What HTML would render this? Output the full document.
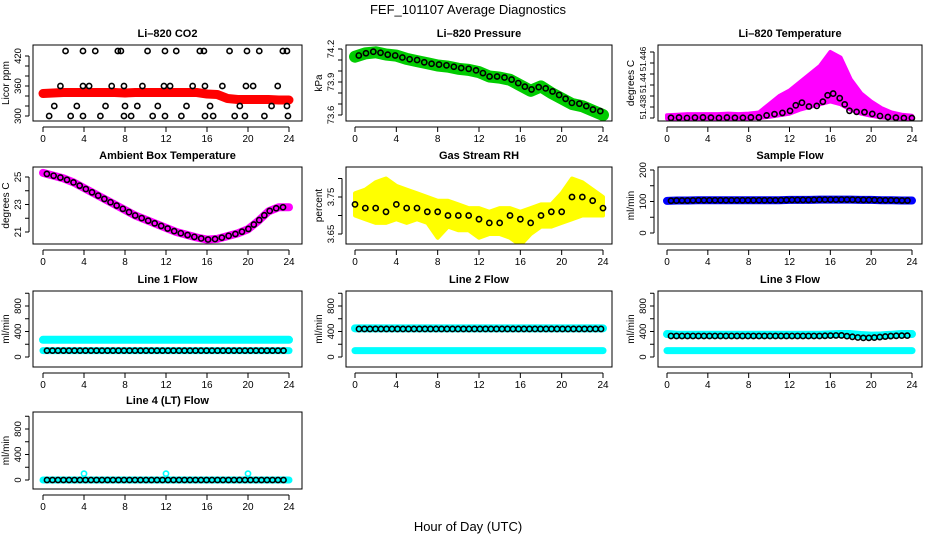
<!DOCTYPE html>
<html><head><meta charset="utf-8"><style>
html,body{margin:0;padding:0;background:#fff;}
svg{display:block;font-family:"Liberation Sans",Arial,sans-serif;}
</style></head><body>
<svg id="chart" width="936" height="540" viewBox="0 0 936 540" xmlns="http://www.w3.org/2000/svg">
<text x="468" y="14" text-anchor="middle" font-size="13">FEF_101107  Average Diagnostics</text>
<text x="468" y="531" text-anchor="middle" font-size="13">Hour of Day (UTC)</text>
</svg>
<script>
const hours = [0,1,2,3,4,5,6,7,8,9,10,11,12,13,14,15,16,17,18,19,20,21,22,23,24];
const xTicks = [0,4,8,12,16,20,24];
const co2Band = [345,346,347,347,347,347,347,347,346,347,347,347,347,347,347,347,344,343,335,333,333,333,333,332,332];
const co2PtX = [0.6,1.1,1.7,2.2,2.7,3.3,3.9,3.9,3.9,4.5,5.1,5.6,6.1,6.7,7.3,7.6,7.9,7.9,8.0,8.6,9.2,9.7,10.2,10.7,11.2,11.8,11.9,11.9,12.4,13.0,13.5,14.0,14.6,15.3,15.7,15.8,15.8,16.3,16.6,17.5,18.2,18.7,19.2,19.7,19.8,19.9,20.5,21.1,21.6,22.3,22.9,23.4,23.8,23.8,23.9];
const co2PtY = [300,320,360,430,300,320,430,360,300,360,430,300,320,360,430,430,360,300,320,300,320,360,430,300,320,360,430,300,360,430,300,320,360,430,430,360,300,320,300,360,430,300,320,300,360,430,360,430,300,320,360,430,430,320,300];
const presBand = [74.13,74.16,74.17,74.15,74.14,74.11,74.09,74.07,74.05,74.04,74.02,74.01,73.99,73.95,73.94,73.92,73.87,73.82,73.86,73.80,73.75,73.70,73.68,73.64,73.60];
const presPts = [74.13,74.16,74.18,74.15,74.14,74.11,74.10,74.07,74.06,74.05,74.03,74.02,74.00,73.95,73.95,73.93,73.88,73.83,73.86,73.82,73.77,73.71,73.70,73.65,73.63];
const tempUpper = [51.4385,51.4386,51.4387,51.4387,51.4387,51.4387,51.4388,51.4387,51.4388,51.4390,51.4405,51.4420,51.4430,51.4445,51.4460,51.4475,51.4500,51.4490,51.4450,51.4425,51.4410,51.4398,51.4390,51.4386,51.4384];
const tempLower = [51.4379,51.4379,51.4379,51.4379,51.4379,51.4379,51.4379,51.4379,51.4379,51.4380,51.4382,51.4385,51.4388,51.4395,51.4400,51.4405,51.4410,51.4405,51.4395,51.4388,51.4384,51.4381,51.4380,51.4379,51.4379];
const tempPts = [51.4380,51.4381,51.4380,51.4381,51.4381,51.4380,51.4381,51.4380,51.4381,51.4381,51.4386,51.4388,51.4392,51.4410,51.4400,51.4403,51.4428,51.4415,51.4390,51.4392,51.4388,51.4383,51.4381,51.4380,51.4380];
const ambBand = [25.3,25.1,24.9,24.6,24.2,23.8,23.4,23.0,22.6,22.2,21.9,21.6,21.3,21.0,20.8,20.6,20.45,20.5,20.7,20.9,21.2,21.8,22.5,22.8,22.8];
const rhUpper = [3.76,3.77,3.79,3.80,3.78,3.77,3.76,3.75,3.74,3.74,3.73,3.72,3.72,3.71,3.72,3.72,3.71,3.72,3.73,3.73,3.76,3.80,3.79,3.77,3.75];
const rhLower = [3.70,3.69,3.68,3.68,3.69,3.68,3.69,3.68,3.64,3.67,3.66,3.66,3.64,3.65,3.65,3.64,3.62,3.65,3.67,3.67,3.68,3.69,3.70,3.70,3.70];
const rhPts = [3.73,3.72,3.72,3.71,3.73,3.72,3.72,3.71,3.71,3.70,3.70,3.70,3.69,3.68,3.68,3.70,3.69,3.68,3.70,3.71,3.71,3.75,3.75,3.74,3.72];
const sampleBand = [102,103,103,104,104,104,104,104,104,104,104,104,105,105,105,106,106,106,106,105,105,104,104,103,103];
const line1Hi = [270,270,270,270,270,270,270,270,270,270,270,270,270,270,270,270,270,270,270,270,270,270,270,270,270];
const line1Lo = [100,100,100,100,100,100,100,100,100,100,100,100,100,100,100,100,100,100,100,100,100,100,100,100,100];
const line1Blk = [100,100,100,100,100,100,100,100,100,100,100,100,100,100,100,100,100,100,100,100,100,100,100,100,100];
const line2Hi = [450,450,450,450,450,450,450,450,450,450,450,450,450,450,450,450,450,450,450,450,450,450,450,450,450];
const line2Lo = [100,100,100,100,100,100,100,100,100,100,100,100,100,100,100,100,100,100,100,100,100,100,100,100,100];
const line2Blk = [440,440,440,440,440,440,440,440,440,440,440,440,440,440,440,440,440,440,440,440,440,440,440,440,440];
const line3Hi = [360,350,350,350,350,350,350,350,350,350,350,350,350,350,350,350,355,360,360,345,335,340,350,360,360];
const line3Lo = [100,100,100,100,100,100,100,100,100,100,100,100,100,100,100,100,100,100,100,100,100,100,100,100,100];
const line3Blk = [330,330,330,330,330,330,330,330,330,330,330,330,330,330,330,330,335,340,320,300,300,315,330,335,335];
const line4Lo = [0,0,0,0,0,0,0,0,0,0,0,0,0,0,0,0,0,0,0,0,0,0,0,0,0];
const line4Blk = [0,0,0,0,0,0,0,0,0,0,0,0,0,0,0,0,0,0,0,0,0,0,0,0,0];
const line4SpikeX = [4,12,20];
const line4SpikeY = [100,100,100];

const NS = 'http://www.w3.org/2000/svg';
const svg = document.getElementById('chart');
function mk(tag, attrs, parent) {
  const e = document.createElementNS(NS, tag);
  for (const k in attrs) e.setAttribute(k, attrs[k]);
  (parent || svg).appendChild(e);
  return e;
}
const COLS = [{l:33,r:302,x0:43,x1:289},{l:346,r:612,x0:355,x1:603},{l:658,r:922,x0:667,x1:912}];
const ROWS = [{t:45,b:121},{t:167,b:244},{t:291,b:367},{t:412,b:489}];

function panel(name, col, row, title, ytitle, v0, p0, v1, p1, yticks, ylabels, lfs) {
  const C = COLS[col], R = ROWS[row];
  const g = mk('g', {});
  
  
  const sx = h => C.x0 + (h / 24) * (C.x1 - C.x0);
  const sy = v => p0 + (v - v0) / (v1 - v0) * (p1 - p0);
  const clip = mk('clipPath', {id: 'clip-' + name}, g);
  mk('rect', {x: C.l, y: R.t, width: C.r - C.l, height: R.b - R.t}, clip);
  const plot = mk('g', {'clip-path': 'url(#clip-' + name + ')'}, g);
  const tt = mk('text', {x: (C.l + C.r) / 2, y: R.t - 8, 'text-anchor': 'middle', 'font-size': 11, 'font-weight': 'bold'}, g);
  tt.textContent = title;
  
  
  const box = mk('rect', {x: C.l, y: R.t, width: C.r - C.l, height: R.b - R.t, fill: 'none', stroke: '#000', 'stroke-width': 1}, g);
  
  
  const ax = mk('g', {}, g);
  
  
  const axisY = R.b + 6;
  mk('line', {x1: sx(0), x2: sx(24), y1: axisY, y2: axisY, stroke: '#000'}, ax);
  xTicks.forEach(h => {
    mk('line', {x1: sx(h), x2: sx(h), y1: axisY, y2: axisY + 5, stroke: '#000'}, ax);
    const t = mk('text', {x: sx(h), y: axisY + 15, 'text-anchor': 'middle', 'font-size': 10}, ax);
    t.textContent = h;
  });
  const ay = mk('g', {}, g);
  
  
  const axX = C.l - 4;
  mk('line', {x1: axX, x2: axX, y1: sy(yticks[0]), y2: sy(yticks[yticks.length - 1]), stroke: '#000'}, ay);
  yticks.forEach(v => mk('line', {x1: axX, x2: axX - 4, y1: sy(v), y2: sy(v), stroke: '#000'}, ay));
  ylabels.forEach(L => {
    const yy = L.py !== undefined ? L.py : sy(L.v);
    const t = mk('text', {x: 0, y: 0, 'text-anchor': 'middle', 'font-size': lfs || 9.5, transform: 'translate(' + (axX - 8) + ',' + yy + ') rotate(-90)'}, ay);
    t.textContent = L.t;
  });
  const yt = mk('text', {x: 0, y: 0, 'text-anchor': 'middle', 'font-size': 10, transform: 'translate(' + (C.l - 24) + ',' + ((R.t + R.b) / 2) + ') rotate(-90)'}, g);
  yt.textContent = ytitle;
  
  
  return {plot, sx, sy};
}
function band(P, arr, color, w, nm) {
  const pl = mk('polyline', {points: arr.map((v, i) => P.sx(hours[i]) + ',' + P.sy(v)).join(' '), fill: 'none', stroke: color, 'stroke-width': w, 'stroke-linejoin': 'round', 'stroke-linecap': 'round'}, P.plot);
  
  
  return pl;
}
function area(P, up, lo, color, nm) {
  const pts = up.map((v, i) => P.sx(hours[i]) + ',' + P.sy(v)).concat(lo.map((v, i) => P.sx(hours[i]) + ',' + P.sy(v)).reverse());
  const pg = mk('polygon', {points: pts.join(' '), fill: color, stroke: color, 'stroke-width': 4, 'stroke-linejoin': 'round'}, P.plot);
  
  
}
function circ(P, h, v, color, nm) {
  const c = mk('circle', {cx: P.sx(h), cy: P.sy(v), r: 2.6, fill: 'none', stroke: color, 'stroke-width': 1.6}, P.plot);
  
  
}
function dotsAlong(P, arr, color, step, nm) {
  const pl = band(P, arr, 'none', 1, nm + '-path');
  const len = pl.getTotalLength();
  for (let s = 4; s < len; s += step) {
    const p = pl.getPointAtLength(s);
    const c = mk('circle', {cx: p.x, cy: p.y, r: 2.6, fill: 'none', stroke: color, 'stroke-width': 1.6}, P.plot);
    
    
  }
}
const step20 = (a, b, s) => { const r = []; for (let v = a; v <= b + 1e-9; v += s) r.push(+v.toFixed(4)); return r; };

let P = panel('co2', 0, 0, 'Li\u2013820 CO2', 'Licor ppm', 300, 116, 420, 56, step20(300, 420, 20), [{v:300,t:'300'},{v:360,t:'360'},{v:420,t:'420'}]);
band(P, co2Band, '#ff0000', 9, 'co2-series');
co2PtX.forEach((h, i) => circ(P, h, co2PtY[i], '#000', 'co2-point'));

P = panel('pressure', 1, 0, 'Li\u2013820 Pressure', 'kPa', 73.6, 115, 74.2, 49, step20(73.6, 74.2, 0.1), [{v:73.6,t:'73.6'},{v:73.9,t:'73.9'},{v:74.2,t:'74.2'}]);
band(P, presBand, '#00cc00', 12, 'pressure-series');
dotsAlong(P, presPts, '#000', 7.5, 'pressure-point');

P = panel('li820-temp', 2, 0, 'Li\u2013820 Temperature', 'degrees C', 51.438, 118, 51.450, 52, step20(51.438, 51.450, 0.002), [{py:107,t:'51.438'},{py:83,t:'51.44'},{py:59,t:'51.446'}], 8);
area(P, tempUpper, tempLower, '#ff00ff', 'li820-temp-series');
dotsAlong(P, tempPts, '#000', 8, 'li820-temp-point');

P = panel('ambient-temp', 0, 1, 'Ambient Box Temperature', 'degrees C', 21, 232, 25, 177, [21,22,23,24,25], [{v:21,t:'21'},{v:23,t:'23'},{v:25,t:'25'}]);
band(P, ambBand, '#ff00ff', 8, 'ambient-temp-series');
dotsAlong(P, ambBand, '#000', 7, 'ambient-temp-point');

P = panel('gas-rh', 1, 1, 'Gas Stream RH', 'percent', 3.65, 234, 3.75, 197, [3.65,3.70,3.75,3.80], [{v:3.65,t:'3.65'},{v:3.75,t:'3.75'}]);
area(P, rhUpper, rhLower, '#ffff00', 'gas-rh-series');
hours.forEach((h, i) => circ(P, h, rhPts[i], '#000', 'gas-rh-point'));

P = panel('sample-flow', 2, 1, 'Sample Flow', 'ml/min', 0, 233, 200, 170, [0,50,100,150,200], [{v:0,t:'0'},{v:100,t:'100'},{v:200,t:'200'}]);
band(P, sampleBand, '#0000ff', 8, 'sample-flow-series');
dotsAlong(P, sampleBand, '#000', 5.5, 'sample-flow-point');

const flowTicks = [0,200,400,600,800,1000];
const flowLabels = [{v:0,t:'0'},{v:400,t:'400'},{v:800,t:'800'}];
P = panel('line1-flow', 0, 2, 'Line 1 Flow', 'ml/min', 0, 357, 800, 306, flowTicks, flowLabels);
band(P, line1Hi, '#00ffff', 8, 'line1-flow-high');
band(P, line1Lo, '#00ffff', 7, 'line1-flow-low');
dotsAlong(P, line1Blk, '#000', 5.5, 'line1-flow-point');
P = panel('line2-flow', 1, 2, 'Line 2 Flow', 'ml/min', 0, 357, 800, 306, flowTicks, flowLabels);
band(P, line2Hi, '#00ffff', 8, 'line2-flow-high');
band(P, line2Lo, '#00ffff', 7, 'line2-flow-low');
dotsAlong(P, line2Blk, '#000', 5.5, 'line2-flow-point');
P = panel('line3-flow', 2, 2, 'Line 3 Flow', 'ml/min', 0, 357, 800, 306, flowTicks, flowLabels);
band(P, line3Hi, '#00ffff', 8, 'line3-flow-high');
band(P, line3Lo, '#00ffff', 7, 'line3-flow-low');
dotsAlong(P, line3Blk, '#000', 5.5, 'line3-flow-point');
P = panel('line4-flow', 0, 3, 'Line 4 (LT) Flow', 'ml/min', 0, 480, 800, 429, flowTicks, flowLabels);
band(P, line4Lo, '#00ffff', 7, 'line4-flow-series');
dotsAlong(P, line4Blk, '#000', 5.5, 'line4-flow-point');
line4SpikeX.forEach((h, i) => circ(P, h, line4SpikeY[i], '#00ffff', 'line4-flow-spike'));
</script>
</body></html>
